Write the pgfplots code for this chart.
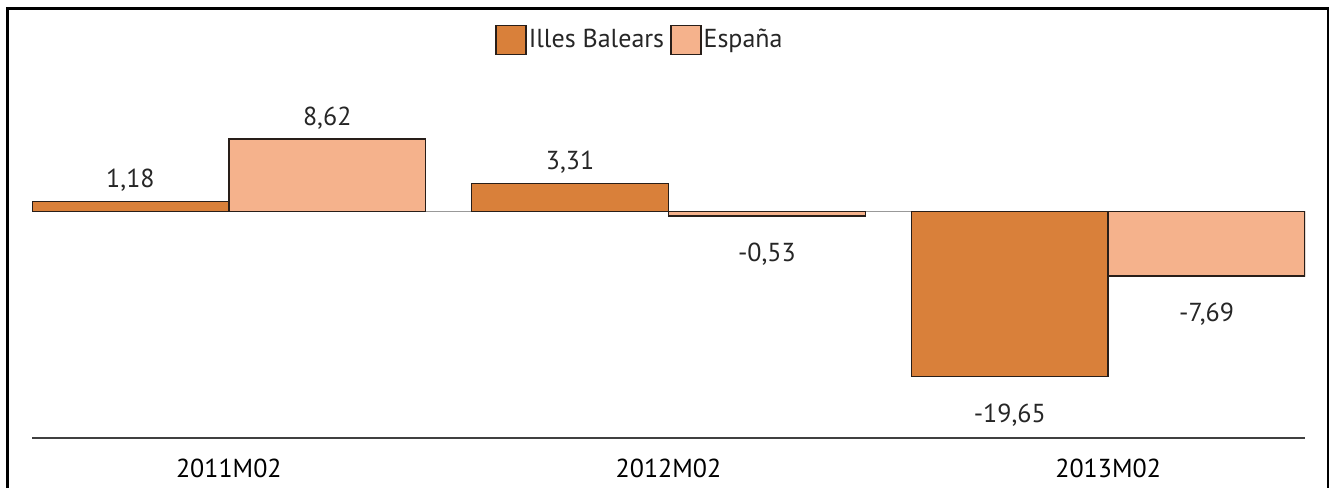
\documentclass[border=0pt]{standalone}
\usepackage{fontspec}
\setmainfont{PT Sans}
\usepackage{pgfplots}
\pgfplotsset{compat=1.18}
\definecolor{ib}{RGB}{217,128,58}
\definecolor{es}{RGB}{245,178,140}
\definecolor{edge}{RGB}{40,30,25}
\begin{document}
\fontsize{13}{15}\selectfont
\begin{tikzpicture}
\useasboundingbox (0,0) rectangle (667.5pt,244pt);
\draw[line width=1.3pt, black] (3.65pt,0) -- (3.65pt,239.7pt) -- (663.9pt,239.7pt) -- (663.9pt,0);
\begin{axis}[
  at={(16pt,25.25pt)}, anchor=south west,
  scale only axis, width=636.5pt, height=155pt,
  xmin=-0.4477, xmax=2.4477, ymin=-26.905, ymax=10,
  ybar=0pt, bar width=0.4477,
  axis x line*=bottom, axis y line*=left,
  x axis line style={color=black!75, line width=1pt},
  y axis line style={draw=none},
  xtick={0,1,2}, xticklabels={2011M02,2012M02,2013M02},
  major tick length=0pt,
  xticklabel style={inner sep=0pt, anchor=north, yshift=-10.5pt},
  ytick=\empty,
  extra y ticks={0}, extra y tick labels={},
  extra y tick style={grid=major, major grid style={color=black!40, line width=0.7pt}, major tick length=0pt},
  every axis plot/.append style={draw=edge, line width=0.7pt},
  nodes near coords,
  nodes near coords style={font=\fontsize{13}{15}\selectfont, inner sep=0pt, text=black!85,
    /pgf/number format/.cd, use comma, fixed, precision=2, fixed zerofill, assume math mode=true},
  coordinate style/.condition={y>0}{yshift=4.6pt},
  coordinate style/.condition={y<0}{yshift=-13.25pt},
  legend columns=2,
  legend style={at={(0.4776,1.2823)}, anchor=center, draw=none, fill=none, inner sep=0pt,
    font=\fontsize{13}{15}\selectfont, text=black!85,
    nodes={inner sep=1pt},
    /tikz/every even column/.append style={column sep=2pt}},
  legend image code/.code={\draw[#1, line width=0.7pt] (0pt,-7.2pt) rectangle (15pt,7.2pt);},
]
\addplot[fill=ib] coordinates {(0,1.18) (1,3.31) (2,-19.65)};
\addplot[fill=es] coordinates {(0,8.62) (1,-0.53) (2,-7.69)};
\legend{Illes Balears, España}
\end{axis}
\end{tikzpicture}
\end{document}
